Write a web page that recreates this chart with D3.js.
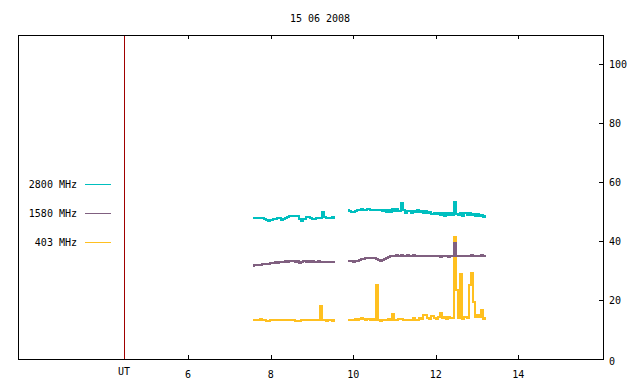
<!DOCTYPE html>
<html>
<head>
<meta charset="utf-8">
<script src="https://cdn.jsdelivr.net/npm/d3@7"></script>
<style>
body { margin: 0; background: #fff; }
text { font-family: "DejaVu Sans Mono", monospace; font-size: 10px; fill: #000; }
</style>
</head>
<body>
<div id="main"></div>
<script>
// chart data
const title = '15 06 2008';
const xTicks = [6, 8, 10, 12, 14];
const yTicks = [0, 20, 40, 60, 80, 100];
const utMark = 4.45;            // red vertical line, labelled "UT"
const freqNames = ['2800 MHz', '1580 MHz', '403 MHz'];
const freqColors = ['#00bfbf', '#806080', '#ffc020'];

// two recording blocks, sampled every 0.05 h
const seg1Start = 7.57, seg2Start = 9.87, step = 0.05;

const f2800a = [47.9, 47.8, 48.0, 47.9, 47.8, 47.9, 47.5, 47.1, 46.9, 47.2, 47.5, 47.7, 47.9, 47.8, 47.2, 47.5, 47.9, 48.3, 48.6, 48.7,
  48.6, 48.7, 48.5, 47.6, 47.0, 47.7, 48.1, 48.2, 47.9, 47.4, 47.6, 47.9, 47.8, 48.0, 49.9, 48.1, 47.9, 48.0, 47.8, 48.1, 47.9];
const f2800b = [50.7, 50.2, 49.8, 49.9, 50.2, 50.5, 50.7, 50.8, 50.7, 50.6, 50.8, 50.6, 50.7, 50.5, 50.6, 50.5, 50.6, 50.3, 50.7, 49.9,
  50.5, 50.0, 50.8, 50.2, 51.0, 50.3, 52.9, 50.6, 49.7, 50.4, 50.1, 49.5, 50.3, 50.0, 50.7, 49.8, 50.2, 49.6, 50.1, 49.5,
  49.8, 49.3, 49.7, 49.2, 49.6, 48.9, 49.4, 48.7, 49.5, 49.0, 49.6, 48.8, 53.2, 49.3, 48.9, 49.7, 48.6, 49.4, 49.0, 49.5,
  48.8, 49.3, 48.7, 49.1, 48.5, 48.9, 48.3, 48.4];

const f1580a = [31.7, 31.9, 31.8, 32.0, 31.9, 32.2, 32.3, 32.2, 32.4, 32.5, 32.6, 32.8, 32.7, 33.0, 32.9, 33.1, 33.2, 33.0, 33.3, 33.2,
  33.3, 33.1, 33.2, 32.7, 32.9, 33.2, 33.1, 33.2, 33.0, 33.2, 33.1, 33.0, 33.2, 33.1, 33.0, 33.1, 33.0, 33.1, 32.9, 33.0, 33.1];
const f1580b = [33.4, 33.3, 33.2, 33.1, 33.2, 33.3, 33.6, 33.8, 34.0, 34.2, 34.3, 34.2, 34.3, 34.2, 34.0, 33.6, 33.4, 33.7, 34.1, 34.4,
  34.6, 34.8, 35.0, 35.1, 35.2, 35.1, 35.2, 35.0, 35.1, 35.2, 35.1, 35.0, 35.2, 35.1, 35.0, 35.1, 34.9, 35.0, 35.1, 34.9,
  35.0, 34.9, 34.8, 34.9, 34.8, 34.7, 34.8, 34.9, 34.8, 34.7, 34.8, 34.9, 39.5, 35.0, 35.1, 34.9, 35.0, 35.1, 34.9, 35.0,
  35.2, 35.1, 34.9, 35.1, 35.0, 35.2, 35.0, 35.1];

const f403a = [13.4, 13.3, 13.2, 13.1, 13.6, 13.2, 13.1, 12.9, 12.9, 13.2, 13.2, 13.3, 13.2, 13.4, 13.3, 13.4, 13.2, 13.3, 13.4, 13.2,
  13.1, 12.9, 12.9, 13.0, 13.2, 13.2, 13.2, 13.3, 13.2, 13.2, 13.2, 13.2, 13.2, 18.0, 13.2, 13.1, 12.9, 13.2, 13.3, 13.0, 13.2];
const f403b = [13.4, 13.4, 13.4, 13.4, 13.5, 13.4, 13.6, 13.9, 13.5, 13.4, 13.6, 13.4, 13.5, 13.3, 25.1, 13.1, 13.0, 13.3, 13.1, 13.4,
  13.5, 13.4, 15.3, 13.4, 13.3, 13.5, 13.6, 13.4, 13.1, 13.4, 13.3, 13.1, 14.0, 13.3, 13.1, 13.9, 13.5, 14.9, 14.8, 14.0,
  13.7, 14.5, 14.0, 13.5, 14.2, 15.7, 13.8, 14.2, 13.7, 14.3, 13.8, 13.9, 41.3, 23.5, 13.9, 28.9, 13.7, 14.2, 13.9, 25.1,
  29.3, 19.5, 14.2, 15.0, 14.3, 16.6, 13.6, 14.0];

const seriesA = [f2800a, f1580a, f403a];
const seriesB = [f2800b, f1580b, f403b];

const w = 640, h = 384;
const padL = 18, padR = 603, padT = 35, padB = 359;   // frame edges in px

const xScale = d3.scaleLinear().domain([1.88, 16.05]).range([padL, padR]);
const yScale = d3.scaleLinear().domain([0, 110]).range([padB, padT]);

const svg = d3.select('#main').append('svg')
    .attr('width', w)
    .attr('height', h);

// title
svg.append('text')
    .attr('x', w / 2)
    .attr('y', 22)
    .attr('text-anchor', 'middle')
    .text(title);

// data lines (drawn first 403, then 1580, then 2800); stepped like the raw sampled record
const toPts = (arr, start) => arr.map((v, i) => [start + i * step, v]);
const line = d3.line()
    .x(d => xScale(d[0]))
    .y(d => yScale(d[1]))
    .curve(d3.curveStep);

[2, 1, 0].forEach(k => {
    [toPts(seriesA[k], seg1Start), toPts(seriesB[k], seg2Start)].forEach(pts => {
        svg.append('path')
            .attr('d', line(pts))
            .attr('fill', 'none')
            .attr('stroke', freqColors[k])
            .attr('stroke-width', 2)
            .attr('shape-rendering', 'crispEdges');
    });
});

// UT marker
const utX = Math.round(xScale(utMark)) + 0.5;
svg.append('line')
    .attr('x1', utX).attr('x2', utX)
    .attr('y1', padT).attr('y2', padB)
    .attr('stroke', '#a00000')
    .attr('stroke-width', 1);

// frame
svg.append('rect')
    .attr('x', padL + 0.5).attr('y', padT + 0.5)
    .attr('width', padR - padL).attr('height', padB - padT)
    .attr('fill', 'none')
    .attr('stroke', '#000')
    .attr('shape-rendering', 'crispEdges');

// x ticks, bottom and top mirror, pointing inward
const tickLen = 4;
xTicks.forEach(t => {
    const px = Math.round(xScale(t)) + 0.5;
    svg.append('line').attr('x1', px).attr('x2', px)
        .attr('y1', padB).attr('y2', padB - tickLen)
        .attr('stroke', '#000').attr('shape-rendering', 'crispEdges');
    svg.append('line').attr('x1', px).attr('x2', px)
        .attr('y1', padT).attr('y2', padT + tickLen)
        .attr('stroke', '#000').attr('shape-rendering', 'crispEdges');
    svg.append('text')
        .attr('x', xScale(t))
        .attr('y', 378)
        .attr('text-anchor', 'middle')
        .text(t);
});
svg.append('text')
    .attr('x', xScale(utMark))
    .attr('y', 375)
    .attr('text-anchor', 'middle')
    .text('UT');

// y ticks on the right side
yTicks.forEach(t => {
    const py = Math.round(yScale(t)) + 0.5;
    svg.append('line').attr('x1', padR).attr('x2', padR - tickLen)
        .attr('y1', py).attr('y2', py)
        .attr('stroke', '#000').attr('shape-rendering', 'crispEdges');
    svg.append('text')
        .attr('x', padR + 6)
        .attr('y', yScale(t) + 3.5 + (t === 0 ? 2 : 0))
        .text(t);
});

// legend
const legendRows = [184, 213, 242];
freqNames.forEach((name, i) => {
    svg.append('text')
        .attr('x', 77)
        .attr('y', legendRows[i] + 3.5)
        .attr('text-anchor', 'end')
        .text(name);
    svg.append('line')
        .attr('x1', 85).attr('x2', 111)
        .attr('y1', legendRows[i] + 0.5).attr('y2', legendRows[i] + 0.5)
        .attr('stroke', freqColors[i])
        .attr('stroke-width', 1)
        .attr('shape-rendering', 'crispEdges');
});
</script>
</body>
</html>
